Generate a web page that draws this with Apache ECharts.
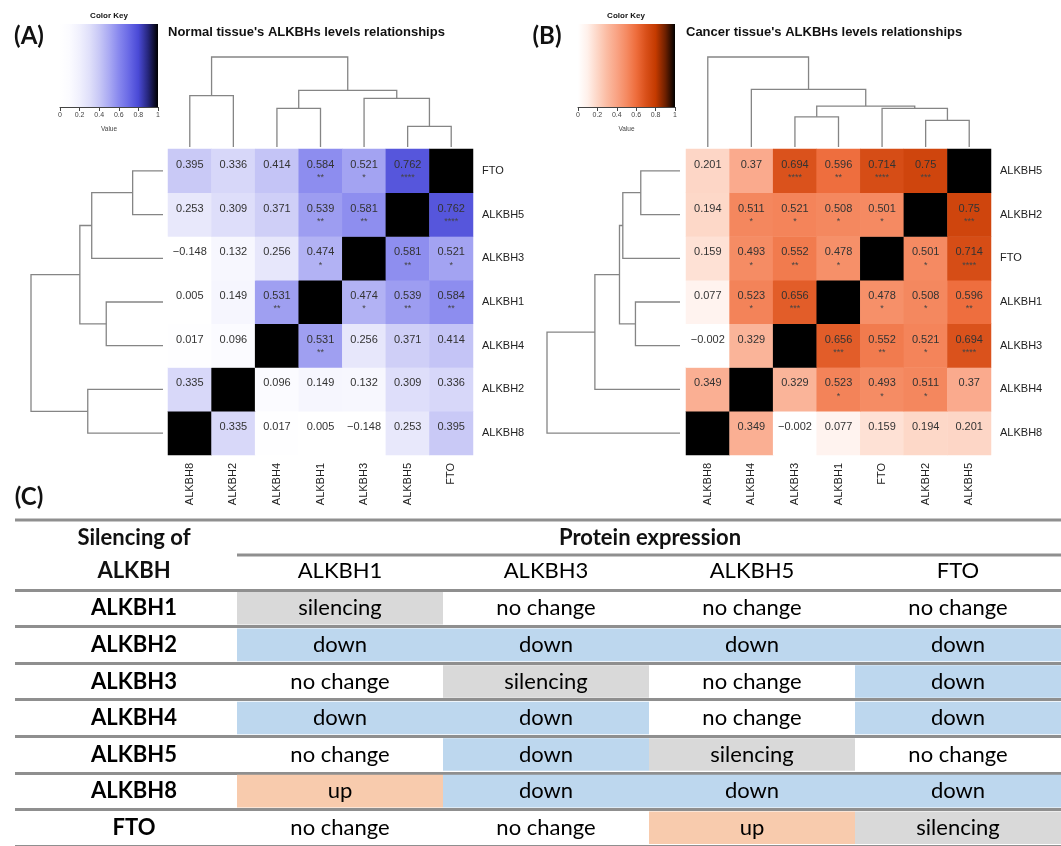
<!DOCTYPE html>
<html>
<head>
<meta charset="utf-8">
<script src="https://cdn.jsdelivr.net/npm/echarts@6/dist/echarts.min.js"></script>
<style>
  html, body { margin: 0; padding: 0; background: #fff; }
  #chart { width: 1061px; height: 846px; }
</style>
</head>
<body>
<div id="chart"></div>
<script>
// Panel A: normal tissue, genes in dendrogram leaf order
const genesA = ["ALKBH8", "ALKBH2", "ALKBH4", "ALKBH1", "ALKBH3", "ALKBH5", "FTO"];
const corrA = [
  [1, 0.335, 0.017, 0.005, -0.148, 0.253, 0.395],
  [0.335, 1, 0.096, 0.149, 0.132, 0.309, 0.336],
  [0.017, 0.096, 1, 0.531, 0.256, 0.371, 0.414],
  [0.005, 0.149, 0.531, 1, 0.474, 0.539, 0.584],
  [-0.148, 0.132, 0.256, 0.474, 1, 0.581, 0.521],
  [0.253, 0.309, 0.371, 0.539, 0.581, 1, 0.762],
  [0.395, 0.336, 0.414, 0.584, 0.521, 0.762, 1]
];
const starsA = [
  ["", "", "", "", "", "", ""],
  ["", "", "", "", "", "", ""],
  ["", "", "", "**", "", "", ""],
  ["", "", "**", "", "*", "**", "**"],
  ["", "", "", "*", "", "**", "*"],
  ["", "", "", "**", "**", "", "****"],
  ["", "", "", "**", "*", "****", ""]
];
// merges: [child, child, height]; leaves 0..6, new clusters get 7, 8, ...
const mergesA = [[5, 6, 0.23], [2, 3, 0.43], [4, 7, 0.54], [0, 1, 0.57], [8, 9, 0.63], [10, 11, 1.0]];

// Panel B: cancer tissue
const genesB = ["ALKBH8", "ALKBH4", "ALKBH3", "ALKBH1", "FTO", "ALKBH2", "ALKBH5"];
const corrB = [
  [1, 0.349, -0.002, 0.077, 0.159, 0.194, 0.201],
  [0.349, 1, 0.329, 0.523, 0.493, 0.511, 0.37],
  [-0.002, 0.329, 1, 0.656, 0.552, 0.521, 0.694],
  [0.077, 0.523, 0.656, 1, 0.478, 0.508, 0.596],
  [0.159, 0.493, 0.552, 0.478, 1, 0.501, 0.714],
  [0.194, 0.511, 0.521, 0.508, 0.501, 1, 0.75],
  [0.201, 0.37, 0.694, 0.596, 0.714, 0.75, 1]
];
const starsB = [
  ["", "", "", "", "", "", ""],
  ["", "", "", "*", "*", "*", ""],
  ["", "", "", "***", "**", "*", "****"],
  ["", "*", "***", "", "*", "*", "**"],
  ["", "*", "**", "*", "", "*", "****"],
  ["", "*", "*", "*", "*", "", "***"],
  ["", "", "****", "**", "****", "***", ""]
];
const mergesB = [[5, 6, 0.295], [2, 3, 0.335], [4, 7, 0.43], [8, 9, 0.455], [1, 10, 0.64], [0, 11, 1.0]];

const keyTicks = [0, 0.2, 0.4, 0.6, 0.8, 1];

// Panel C: silencing table
const silenced = ["ALKBH1", "ALKBH2", "ALKBH3", "ALKBH4", "ALKBH5", "ALKBH8", "FTO"];
const measured = ["ALKBH1", "ALKBH3", "ALKBH5", "FTO"];
const effects = [
  ["silencing", "no change", "no change", "no change"],
  ["down", "down", "down", "down"],
  ["no change", "silencing", "no change", "down"],
  ["down", "down", "no change", "down"],
  ["no change", "down", "silencing", "no change"],
  ["up", "down", "down", "down"],
  ["no change", "no change", "up", "silencing"]
];

(function () {
  const blues = ["#ffffff", "#fbfbff", "#f0f0fd", "#e0e0fa", "#c8c8f6", "#aaaaf3",
    "#8888ee", "#6a6ae6", "#4a4ad6", "#25257a", "#000000"];
  const oranges = ["#ffffff", "#fff0ea", "#fdd6c6", "#fbbba2", "#f9a384", "#f58a62",
    "#ee6d3c", "#d9501a", "#c43a00", "#6e2000", "#000000"];
  const statusColors = { "no change": "#ffffff", "down": "#bdd7ee", "up": "#f8cbad", "silencing": "#d9d9d9" };
  const arial = "Liberation Sans";
  const tableFont = "Lato";

  const chart = echarts.init(document.getElementById("chart"));

  function heatData(corr) {
    const out = [];
    corr.forEach(function (row, r) {
      row.forEach(function (v, c) { out.push([c, r, v]); });
    });
    return out;
  }

  function buildSegments(merges, n) {
    const pos = [];
    const hgt = [];
    for (let i = 0; i < n; i += 1) { pos.push(i); hgt.push(0); }
    return merges.map(function (m) {
      const seg = [pos[m[0]], hgt[m[0]], pos[m[1]], hgt[m[1]], m[2]];
      pos.push((pos[m[0]] + pos[m[1]]) / 2);
      hgt.push(m[2]);
      return seg;
    });
  }

  function heatSeries(idx, corr, stars) {
    return {
      type: "heatmap",
      xAxisIndex: idx,
      yAxisIndex: idx,
      data: heatData(corr),
      silent: true,
      itemStyle: { borderWidth: 0 },
      label: {
        show: true,
        formatter: function (p) {
          const c = p.value[0];
          const r = p.value[1];
          if (c === r) { return ""; }
          const txt = String(p.value[2]).replace("-", "\u2212");
          return "{v|" + txt + "}\n{s|" + (stars[r][c] || " ") + "}";
        },
        rich: {
          v: { fontSize: 11, fontFamily: arial, color: "#333", lineHeight: 14 },
          s: { fontSize: 9, fontFamily: arial, color: "#444", lineHeight: 12 }
        }
      }
    };
  }

  function dendroSeries(idx, merges, n, orient) {
    return {
      type: "custom",
      xAxisIndex: idx,
      yAxisIndex: idx,
      silent: true,
      data: buildSegments(merges, n),
      renderItem: function (params, api) {
        const pt = function (p, h) {
          return orient === "top" ? api.coord([p, h]) : api.coord([h, p]);
        };
        const xl = api.value(0), hl = api.value(1), xr = api.value(2), hr = api.value(3), h = api.value(4);
        return {
          type: "polyline",
          shape: { points: [pt(xl, hl), pt(xl, h), pt(xr, h), pt(xr, hr)] },
          style: { stroke: "#858585", lineWidth: 1.3, fill: "none" }
        };
      }
    };
  }

  function keySeries(idx, colors) {
    return {
      type: "custom",
      xAxisIndex: idx,
      yAxisIndex: idx,
      silent: true,
      data: [[keyTicks[0], keyTicks[keyTicks.length - 1]]],
      renderItem: function (params, api) {
        const p0 = api.coord([api.value(0), 1]);
        const p1 = api.coord([api.value(1), 0]);
        return {
          type: "rect",
          shape: { x: p0[0], y: p0[1], width: p1[0] - p0[0], height: p1[1] - p0[1] },
          style: {
            fill: {
              type: "linear", x: 0, y: 0, x2: 1, y2: 0,
              colorStops: colors.map(function (c, i) { return { offset: i / (colors.length - 1), color: c }; })
            }
          }
        };
      }
    };
  }

  function tableData() {
    const out = [];
    silenced.forEach(function (name, r) {
      out.push([0, r, -1]);
      effects[r].forEach(function (e, c) {
        out.push([c + 1, r, Object.keys(statusColors).indexOf(e)]);
      });
    });
    return out;
  }

  const statusNames = Object.keys(statusColors);

  const tableSeries = {
    type: "custom",
    xAxisIndex: 8,
    yAxisIndex: 8,
    silent: true,
    data: tableData(),
    renderItem: function (params, api) {
      const c = api.value(0), r = api.value(1), s = api.value(2);
      const center = api.coord([c, r]);
      const size = api.size([1, 1]);
      const head = s < 0;
      return {
        type: "group",
        children: [
          {
            type: "rect",
            shape: { x: center[0] - size[0] / 2, y: center[1] - size[1] / 2 + 2, width: size[0], height: size[1] - 4 },
            style: { fill: head ? "rgba(0,0,0,0)" : statusColors[statusNames[s]] }
          },
          {
            type: "text",
            x: center[0],
            y: center[1],
            style: {
              text: head ? silenced[r] : statusNames[s],
              font: (head ? "bold " : "") + "22px " + tableFont,
              fill: "#000",
              align: "center",
              verticalAlign: "middle"
            }
          }
        ]
      };
    }
  };

  const grids = [
    { left: 168, top: 149, width: 305, height: 306 },
    { left: 686, top: 149, width: 305, height: 306 },
    { left: 168, top: 57, width: 305, height: 90 },
    { left: 31, top: 149, width: 132, height: 306 },
    { left: 686, top: 57, width: 305, height: 90 },
    { left: 547, top: 149, width: 133, height: 306 },
    { left: 60, top: 24, width: 98, height: 83 },
    { left: 578, top: 24, width: 97, height: 83 },
    { left: 31, top: 590, width: 1030, height: 257.6 }
  ];

  function heatX(i, genes) {
    return {
      gridIndex: i, type: "category", data: genes, position: "bottom",
      axisLine: { show: false }, axisTick: { show: false },
      axisLabel: { rotate: 90, fontSize: 11, fontFamily: arial, color: "#222", margin: 8 }
    };
  }
  function heatY(i, genes) {
    return {
      gridIndex: i, type: "category", data: genes, position: "right",
      axisLine: { show: false }, axisTick: { show: false },
      axisLabel: { fontSize: 11, fontFamily: arial, color: "#222", margin: 9 }
    };
  }
  function hidden(i, min, max, inverse) {
    return { gridIndex: i, type: "value", min: min, max: max, inverse: !!inverse, show: false };
  }
  function keyX(i) {
    return {
      gridIndex: i, type: "value", min: 0, max: 1, interval: 0.2,
      name: "Value", nameLocation: "middle", nameGap: 19,
      nameTextStyle: { fontSize: 6.5, fontFamily: arial, color: "#444" },
      axisLine: { lineStyle: { color: "#444", width: 1 } },
      axisTick: { length: 4, lineStyle: { color: "#444" } },
      axisLabel: { fontSize: 7, fontFamily: arial, color: "#444", margin: 5 },
      splitLine: { show: false }
    };
  }

  const xAxes = [
    heatX(0, genesA), heatX(1, genesB),
    hidden(2, -0.5, 6.5), hidden(3, 0, 1, true),
    hidden(4, -0.5, 6.5), hidden(5, 0, 1, true),
    keyX(6), keyX(7),
    {
      gridIndex: 8, type: "category", data: [""].concat(measured), position: "top",
      axisLine: { show: false }, axisTick: { show: false },
      axisLabel: { fontSize: 22, fontFamily: tableFont, color: "#000", margin: 8, interval: 0 }
    }
  ];
  const yAxes = [
    heatY(0, genesA), heatY(1, genesB),
    hidden(2, 0, 1), hidden(3, -0.5, 6.5),
    hidden(4, 0, 1), hidden(5, -0.5, 6.5),
    hidden(6, 0, 1), hidden(7, 0, 1),
    {
      gridIndex: 8, type: "category", data: silenced, inverse: true,
      axisLine: { show: false },
      axisLabel: { show: false },
      axisTick: { show: true, interval: 0, length: 16, lineStyle: { color: "#8f8f8f", width: 3 } },
      splitLine: { show: true, interval: 0, lineStyle: { color: "#8f8f8f", width: 3 } }
    }
  ];

  function txt(x, y, text, font, align) {
    return {
      type: "text", x: x, y: y, silent: true,
      style: { text: text, font: font, fill: "#111", align: align || "center", verticalAlign: "middle" }
    };
  }

  chart.setOption({
    animation: false,
    grid: grids,
    xAxis: xAxes,
    yAxis: yAxes,
    visualMap: [
      { type: "continuous", show: false, min: 0, max: 1, seriesIndex: 0, inRange: { color: blues } },
      { type: "continuous", show: false, min: 0, max: 1, seriesIndex: 1, inRange: { color: oranges } }
    ],
    graphic: [
      txt(29, 36, "(A)", "bold 24px " + tableFont),
      txt(547, 36, "(B)", "bold 24px " + tableFont),
      txt(29, 497, "(C)", "bold 24px " + tableFont),
      txt(109, 16, "Color Key", "bold 8px " + arial),
      txt(626, 16, "Color Key", "bold 8px " + arial),
      txt(168, 32, "Normal tissue's ALKBHs levels relationships", "bold 13px " + arial, "left"),
      txt(686, 32, "Cancer tissue's ALKBHs levels relationships", "bold 13px " + arial, "left"),
      txt(134, 538, "Silencing of", "bold 22px " + tableFont),
      txt(134, 571, "ALKBH", "bold 22px " + tableFont),
      txt(650, 538, "Protein expression", "bold 22px " + tableFont),
      { type: "line", silent: true, shape: { x1: 15, y1: 520, x2: 1061, y2: 520 }, style: { stroke: "#8f8f8f", lineWidth: 3 } },
      { type: "line", silent: true, shape: { x1: 237, y1: 555, x2: 1061, y2: 555 }, style: { stroke: "#8f8f8f", lineWidth: 3 } }
    ],
    series: [
      heatSeries(0, corrA, starsA),
      heatSeries(1, corrB, starsB),
      dendroSeries(2, mergesA, genesA.length, "top"),
      dendroSeries(3, mergesA, genesA.length, "left"),
      dendroSeries(4, mergesB, genesB.length, "top"),
      dendroSeries(5, mergesB, genesB.length, "left"),
      keySeries(6, blues),
      keySeries(7, oranges),
      tableSeries
    ]
  });
})();
</script>
</body>
</html>
